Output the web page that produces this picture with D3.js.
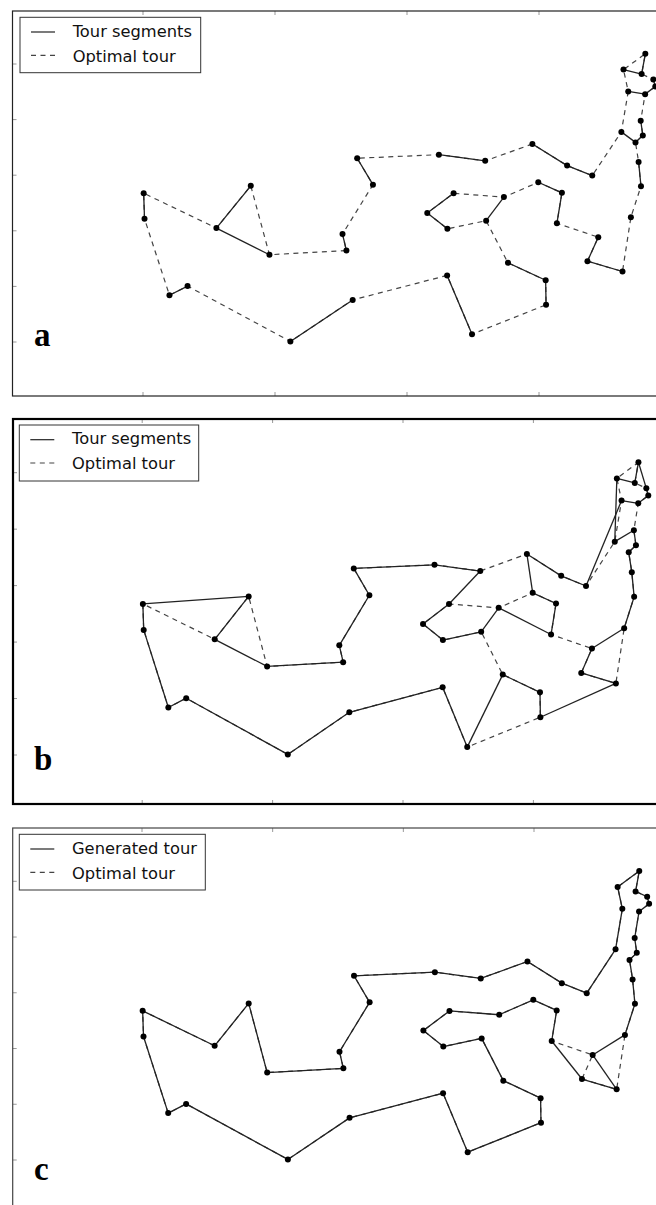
<!DOCTYPE html>
<html><head><meta charset="utf-8">
<script src="https://cdn.jsdelivr.net/npm/d3@7"></script>
<style>html,body{margin:0;padding:0;background:#fff}svg{display:block}</style>
</head><body>
<svg id="chart" width="656" height="1205"></svg>
<script>
// City coordinates (index = city id - 1)
const cityX = [6734,2233,5530,401,3082,7608,7573,7265,6898,1112,5468,5989,4706,4612,6347,6107,7611,7462,7732,5900,4483,6101,5199,1633,4307,675,7555,7541,3177,7352,7545,3245,6426,4608,23,7248,7762,7392,3484,6271,4985,1916,7280,7509,10,6807,5185,3023];
const cityY = [1453,10,1424,841,1644,4458,3716,1268,1885,2049,2606,2873,2674,2035,2683,669,5184,3590,4723,3561,3369,1110,2182,2809,2322,1006,4819,3981,756,4506,2801,3305,3173,1198,2216,3779,4595,2244,2829,2135,140,1569,4899,3239,2676,2993,3258,1942];

// Optimal tour (closed)
const optimalTour = [1,8,38,31,44,18,7,28,6,37,19,27,17,43,30,36,46,33,20,47,21,32,39,48,5,42,24,10,45,35,4,26,2,29,34,41,16,22,3,23,14,25,13,11,12,15,40,9];

// Panel a: tour segments (edges)
const segmentsA = [[17,27],[43,27],[19,37],[37,6],[30,6],[28,7],[7,18],[36,18],[44,31],[46,33],[33,20],[47,21],[32,39],[48,5],[24,10],[10,42],[45,35],[4,26],[2,29],[34,41],[16,22],[22,3],[14,25],[25,13],[12,15],[15,40],[9,1],[1,8],[23,11]];

// Panel b: joined tour (closed)
const tourB = [38,9,1,8,16,22,3,41,34,29,2,26,4,35,45,24,10,42,5,48,39,32,21,47,13,25,14,23,11,40,15,12,20,33,46,30,6,37,19,17,27,43,36,28,7,18,44,31];

// Panel c: generated tour (closed)
const tourC = [1,8,9,38,31,44,18,7,28,6,37,19,27,17,43,30,36,46,33,20,47,21,32,39,48,5,42,24,10,45,35,4,26,2,29,34,41,16,22,3,23,14,25,13,11,12,15,40];

const xTicks = [0,2000,4000,6000,8000];
const yTicks = [0,1000,2000,3000,4000,5000];
const legendA = ["Tour segments","Optimal tour"];
const legendB = ["Tour segments","Optimal tour"];
const legendC = ["Generated tour","Optimal tour"];

function closedEdges(t){ return t.map((c,i)=>[c, t[(i+1)%t.length]]); }

const panels = [
  {label:"a", xr:[143,539], yr:[342,64], frame:{l:12.5,t:11,r:672,b:396}, fw:1.2, fc:"#222",
   lab:[34,346], lg:{x:20,y:17.3,w:180.7,h:55.4}, texts:legendA, solid:segmentsA},
  {label:"b", xr:[142.2,533.4], yr:[755,472.7], frame:{l:13,t:419,r:672,b:804}, fw:2.2, fc:"#000",
   lab:[34,770], lg:{x:19.3,y:425,w:179.4,h:56}, texts:legendB, solid:closedEdges(tourB)},
  {label:"c", xr:[142,534], yr:[1160,881.3], frame:{l:12.7,t:828,r:672,b:1216}, fw:1.2, fc:"#444",
   lab:[34,1180], lg:{x:19.3,y:834.3,w:186,h:55.7}, texts:legendC, solid:closedEdges(tourC)}
];

const svg = d3.select("#chart");
const cities = cityX.map((x,i)=>({id:i+1, x:x, y:cityY[i]}));
const byId = id => cities[id-1];

panels.forEach(p=>{
  const x = d3.scaleLinear().domain([0,6000]).range(p.xr);
  const y = d3.scaleLinear().domain([0,5000]).range(p.yr);
  const g = svg.append("g");
  const f = p.frame;

  // ticks (inward)
  const tk = g.append("g").attr("stroke","#999").attr("stroke-width",1);
  xTicks.forEach(v=>{
    const px = x(v);
    if (px > f.l && px < f.r) {
      tk.append("line").attr("x1",px).attr("x2",px).attr("y1",f.t).attr("y2",f.t+4);
      tk.append("line").attr("x1",px).attr("x2",px).attr("y1",f.b).attr("y2",f.b-4);
    }
  });
  yTicks.forEach(v=>{
    const py = y(v);
    tk.append("line").attr("x1",f.l).attr("x2",f.l+4).attr("y1",py).attr("y2",py);
    tk.append("line").attr("x1",f.r).attr("x2",f.r-4).attr("y1",py).attr("y2",py);
  });

  const line = d3.line().x(d=>x(d.x)).y(d=>y(d.y));
  // optimal tour dashed
  g.append("path")
    .attr("d", line(optimalTour.concat([optimalTour[0]]).map(byId)))
    .attr("fill","none").attr("stroke","#444").attr("stroke-width",1.2)
    .attr("stroke-dasharray","5,4.5");
  // solid edges
  g.append("g").selectAll("line").data(p.solid).join("line")
    .attr("x1",d=>x(byId(d[0]).x)).attr("y1",d=>y(byId(d[0]).y))
    .attr("x2",d=>x(byId(d[1]).x)).attr("y2",d=>y(byId(d[1]).y))
    .attr("stroke","#222").attr("stroke-width",1.3);
  // points
  g.append("g").selectAll("circle").data(cities).join("circle")
    .attr("cx",d=>x(d.x)).attr("cy",d=>y(d.y)).attr("r",3).attr("fill","#000");

  // frame
  g.append("rect").attr("x",f.l).attr("y",f.t).attr("width",f.r-f.l).attr("height",f.b-f.t)
    .attr("fill","none").attr("stroke",p.fc).attr("stroke-width",p.fw);

  // legend
  const L = p.lg;
  const lg = g.append("g");
  lg.append("rect").attr("x",L.x).attr("y",L.y).attr("width",L.w).attr("height",L.h)
    .attr("fill","#fff").attr("stroke","#333").attr("stroke-width",1);
  lg.append("line").attr("x1",L.x+11).attr("x2",L.x+35).attr("y1",L.y+14.7).attr("y2",L.y+14.7)
    .attr("stroke","#222").attr("stroke-width",1.2);
  lg.append("line").attr("x1",L.x+11).attr("x2",L.x+35).attr("y1",L.y+38).attr("y2",L.y+38)
    .attr("stroke","#444").attr("stroke-width",1.2).attr("stroke-dasharray","5,4.5");
  lg.selectAll("text").data(p.texts).join("text")
    .attr("x",L.x+52.7).attr("y",(d,i)=>L.y+19.4+i*25)
    .attr("font-family","DejaVu Sans").attr("font-size",16.3).attr("fill","#111")
    .text(d=>d);

  // panel label
  g.append("text").attr("x",p.lab[0]).attr("y",p.lab[1])
    .attr("font-family","Liberation Serif").attr("font-weight","bold").attr("font-size",33)
    .attr("fill","#000").text(p.label);
});
</script>
</body></html>
